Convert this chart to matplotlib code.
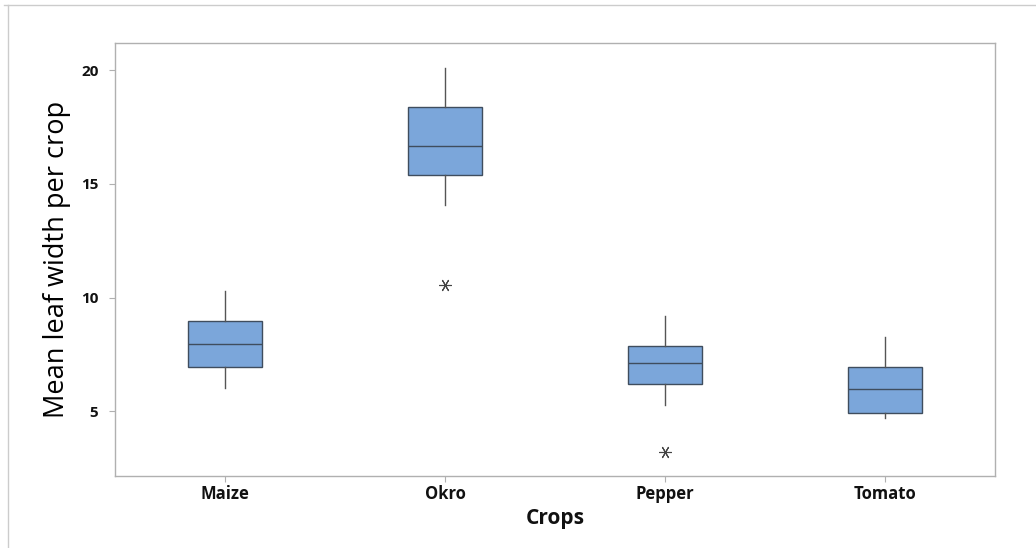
import matplotlib
matplotlib.use("Agg")
import matplotlib.pyplot as plt
from matplotlib.lines import Line2D

crops = ["Maize", "Okro", "Pepper", "Tomato"]
whisker_low = [6.01, 14.08, 5.28, 4.69]
q1 = [6.94, 15.40, 6.19, 4.94]
medians = [7.96, 16.67, 7.11, 5.98]
q3 = [8.99, 18.40, 7.88, 6.94]
whisker_high = [10.30, 20.09, 9.19, 8.28]
outliers = [[], [10.56], [3.22], []]
yticks = [5, 10, 15, 20]

stats = []
for i, c in enumerate(crops):
    stats.append(dict(label=c, whislo=whisker_low[i], q1=q1[i], med=medians[i],
                      q3=q3[i], whishi=whisker_high[i], fliers=outliers[i]))

fig = plt.figure(figsize=(10.36, 5.48), dpi=100)
ax = fig.add_axes([115/1036, 1-475.7/548, 880/1036, (475.7-43)/548])

fill = "#7ba6da"
edge = "#3f4d5e"
bp = ax.bxp(stats, positions=[1, 2, 3, 4], widths=0.336, patch_artist=True,
            showcaps=False,
            boxprops=dict(facecolor=fill, edgecolor=edge, linewidth=1.0),
            medianprops=dict(color=edge, linewidth=1.0),
            whiskerprops=dict(color="#555555", linewidth=1.0),
            flierprops=dict(marker=(6, 2, 30), markersize=9, markeredgecolor="#444444",
                            markerfacecolor="none", markeredgewidth=0.8, linestyle="none"))

ax.set_xlim(0.5, 4.5)
ax.set_ylim(2.17, 21.2)
ax.set_yticks(yticks)
ax.set_yticklabels([str(v) for v in yticks])
ax.set_xticks([1, 2, 3, 4])
ax.set_xticklabels(crops)

for s in ax.spines.values():
    s.set_color("#b0b0b0")
    s.set_linewidth(1.0)
ax.tick_params(axis="both", colors="#b0b0b0", length=4, width=0.8)
for lab in ax.get_yticklabels():
    lab.set_color("#111111"); lab.set_fontsize(11); lab.set_fontweight("bold"); lab.set_fontfamily("Open Sans")
for lab in ax.get_xticklabels():
    lab.set_color("#111111"); lab.set_fontsize(12); lab.set_fontweight("bold"); lab.set_fontfamily("Open Sans")
ax.tick_params(axis="y", pad=8)
ax.tick_params(axis="x", pad=3)

ax.set_xlabel("Crops", fontsize=15, fontweight="bold", family="Open Sans", color="#111111", labelpad=3)
ax.set_ylabel("Mean leaf width per crop", fontsize=19.5, family="Open Sans", fontweight="medium",
              color="#000000")
ax.yaxis.set_label_coords(-(115 - 71) / 880, 0.5)

# outer frame lines
fig.add_artist(Line2D([4/1036, 1], [1-5/548, 1-5/548], color="#cccccc", linewidth=1.0))
fig.add_artist(Line2D([8/1036, 8/1036], [0, 1-5/548], color="#cccccc", linewidth=1.0))

fig.savefig("out.png", dpi=100)
